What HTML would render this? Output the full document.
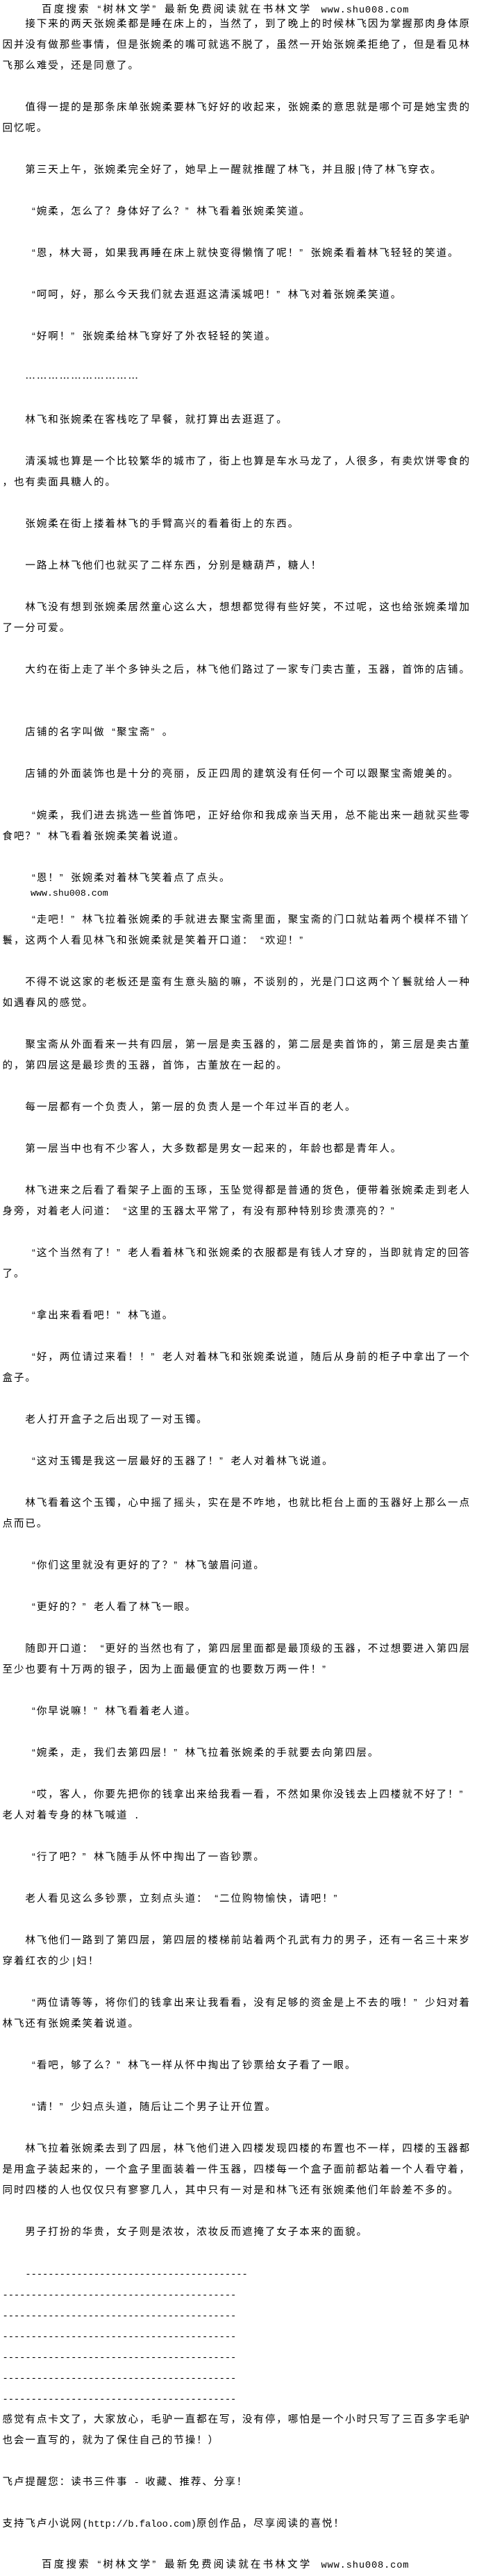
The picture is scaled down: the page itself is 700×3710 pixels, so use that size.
<!DOCTYPE html>
<html lang="zh-CN">
<head>
<meta charset="utf-8">
<style>
html,body{margin:0;padding:0;background:#fff;}
body{width:700px;height:3704px;position:relative;overflow:hidden;color:#000;
 font-family:"Liberation Sans","Noto Sans CJK SC",sans-serif;font-size:14.5px;letter-spacing:1.95px;}
.h{position:absolute;left:60px;height:28px;line-height:28px;white-space:nowrap;letter-spacing:3.2px;}
#t{position:absolute;left:3.5px;top:20px;width:694px;}
.l{height:30px;line-height:30px;white-space:nowrap;}
.i{padding-left:32.9px;}
.o,.c{display:inline-block;width:14.5px;margin-right:1.95px;letter-spacing:0;}
.o{text-align:right;}
.c{text-align:left;}
.h .o,.h .c{margin-right:3.2px;}
.m{font-family:"Liberation Mono",monospace;font-size:13.7px;letter-spacing:0;}
.e{font-family:"Noto Sans CJK SC",sans-serif;}
.w{position:absolute;left:44px;top:1279px;height:16px;line-height:16px;font-family:"Liberation Mono",monospace;font-size:13.3px;letter-spacing:0;white-space:nowrap;}
</style>
</head>
<body>
<div class="h" style="top:0;">百度搜索<span class="o">“</span>树林文学<span class="c">”</span>最新免费阅读就在书林文学<span class="m" style="letter-spacing:0.85px;margin-left:4px;"> www.shu008.com</span></div>

<div id="t">
<div class="l i">接下来的两天张婉柔都是睡在床上的，当然了，到了晚上的时候林飞因为掌握那肉身体原</div>
<div class="l">因并没有做那些事情，但是张婉柔的嘴可就逃不脱了，虽然一开始张婉柔拒绝了，但是看见林</div>
<div class="l">飞那么难受，还是同意了。</div>
<div class="l"></div>
<div class="l i">值得一提的是那条床单张婉柔要林飞好好的收起来，张婉柔的意思就是哪个可是她宝贵的</div>
<div class="l">回忆呢。</div>
<div class="l"></div>
<div class="l i">第三天上午，张婉柔完全好了，她早上一醒就推醒了林飞，并且服<span class="m">|</span>侍了林飞穿衣。</div>
<div class="l"></div>
<div class="l i"><span class="o">“</span>婉柔，怎么了？身体好了么？<span class="c">”</span>林飞看着张婉柔笑道。</div>
<div class="l"></div>
<div class="l i"><span class="o">“</span>恩，林大哥，如果我再睡在床上就快变得懒惰了呢！<span class="c">”</span>张婉柔看着林飞轻轻的笑道。</div>
<div class="l"></div>
<div class="l i"><span class="o">“</span>呵呵，好，那么今天我们就去逛逛这清溪城吧！<span class="c">”</span>林飞对着张婉柔笑道。</div>
<div class="l"></div>
<div class="l i"><span class="o">“</span>好啊！<span class="c">”</span>张婉柔给林飞穿好了外衣轻轻的笑道。</div>
<div class="l"></div>
<div class="l i"><span class="e">…………………………</span></div>
<div class="l"></div>
<div class="l i">林飞和张婉柔在客栈吃了早餐，就打算出去逛逛了。</div>
<div class="l"></div>
<div class="l i">清溪城也算是一个比较繁华的城市了，街上也算是车水马龙了，人很多，有卖炊饼零食的</div>
<div class="l">，也有卖面具糖人的。</div>
<div class="l"></div>
<div class="l i">张婉柔在街上搂着林飞的手臂高兴的看着街上的东西。</div>
<div class="l"></div>
<div class="l i">一路上林飞他们也就买了二样东西，分别是糖葫芦，糖人！</div>
<div class="l"></div>
<div class="l i">林飞没有想到张婉柔居然童心这么大，想想都觉得有些好笑，不过呢，这也给张婉柔增加</div>
<div class="l">了一分可爱。</div>
<div class="l"></div>
<div class="l i">大约在街上走了半个多钟头之后，林飞他们路过了一家专门卖古董，玉器，首饰的店铺。</div>
<div class="l"></div>
<div class="l"></div>
<div class="l i">店铺的名字叫做<span class="o">“</span>聚宝斋<span class="c">”</span>。</div>
<div class="l"></div>
<div class="l i">店铺的外面装饰也是十分的亮丽，反正四周的建筑没有任何一个可以跟聚宝斋媲美的。</div>
<div class="l"></div>
<div class="l i"><span class="o">“</span>婉柔，我们进去挑选一些首饰吧，正好给你和我成亲当天用，总不能出来一趟就买些零</div>
<div class="l">食吧？<span class="c">”</span>林飞看着张婉柔笑着说道。</div>
<div class="l"></div>
<div class="l i"><span class="o">“</span>恩！<span class="c">”</span>张婉柔对着林飞笑着点了点头。</div>
<div class="l"></div>
<div class="l i"><span class="o">“</span>走吧！<span class="c">”</span>林飞拉着张婉柔的手就进去聚宝斋里面，聚宝斋的门口就站着两个模样不错丫</div>
<div class="l">鬟，这两个人看见林飞和张婉柔就是笑着开口道：<span class="o">“</span>欢迎！<span class="c">”</span></div>
<div class="l"></div>
<div class="l i">不得不说这家的老板还是蛮有生意头脑的嘛，不谈别的，光是门口这两个丫鬟就给人一种</div>
<div class="l">如遇春风的感觉。</div>
<div class="l"></div>
<div class="l i">聚宝斋从外面看来一共有四层，第一层是卖玉器的，第二层是卖首饰的，第三层是卖古董</div>
<div class="l">的，第四层这是最珍贵的玉器，首饰，古董放在一起的。</div>
<div class="l"></div>
<div class="l i">每一层都有一个负责人，第一层的负责人是一个年过半百的老人。</div>
<div class="l"></div>
<div class="l i">第一层当中也有不少客人，大多数都是男女一起来的，年龄也都是青年人。</div>
<div class="l"></div>
<div class="l i">林飞进来之后看了看架子上面的玉琢，玉坠觉得都是普通的货色，便带着张婉柔走到老人</div>
<div class="l">身旁，对着老人问道：<span class="o">“</span>这里的玉器太平常了，有没有那种特别珍贵漂亮的？<span class="c">”</span></div>
<div class="l"></div>
<div class="l i"><span class="o">“</span>这个当然有了！<span class="c">”</span>老人看着林飞和张婉柔的衣服都是有钱人才穿的，当即就肯定的回答</div>
<div class="l">了。</div>
<div class="l"></div>
<div class="l i"><span class="o">“</span>拿出来看看吧！<span class="c">”</span>林飞道。</div>
<div class="l"></div>
<div class="l i"><span class="o">“</span>好，两位请过来看！！<span class="c">”</span>老人对着林飞和张婉柔说道，随后从身前的柜子中拿出了一个</div>
<div class="l">盒子。</div>
<div class="l"></div>
<div class="l i">老人打开盒子之后出现了一对玉镯。</div>
<div class="l"></div>
<div class="l i"><span class="o">“</span>这对玉镯是我这一层最好的玉器了！<span class="c">”</span>老人对着林飞说道。</div>
<div class="l"></div>
<div class="l i">林飞看着这个玉镯，心中摇了摇头，实在是不咋地，也就比柜台上面的玉器好上那么一点</div>
<div class="l">点而已。</div>
<div class="l"></div>
<div class="l i"><span class="o">“</span>你们这里就没有更好的了？<span class="c">”</span>林飞皱眉问道。</div>
<div class="l"></div>
<div class="l i"><span class="o">“</span>更好的？<span class="c">”</span>老人看了林飞一眼。</div>
<div class="l"></div>
<div class="l i">随即开口道：<span class="o">“</span>更好的当然也有了，第四层里面都是最顶级的玉器，不过想要进入第四层</div>
<div class="l">至少也要有十万两的银子，因为上面最便宜的也要数万两一件！<span class="c">”</span></div>
<div class="l"></div>
<div class="l i"><span class="o">“</span>你早说嘛！<span class="c">”</span>林飞看着老人道。</div>
<div class="l"></div>
<div class="l i"><span class="o">“</span>婉柔，走，我们去第四层！<span class="c">”</span>林飞拉着张婉柔的手就要去向第四层。</div>
<div class="l"></div>
<div class="l i"><span class="o">“</span>哎，客人，你要先把你的钱拿出来给我看一看，不然如果你没钱去上四楼就不好了！<span class="c">”</span></div>
<div class="l">老人对着专身的林飞喊道<span class="m"> .</span></div>
<div class="l"></div>
<div class="l i"><span class="o">“</span>行了吧？<span class="c">”</span>林飞随手从怀中掏出了一沓钞票。</div>
<div class="l"></div>
<div class="l i">老人看见这么多钞票，立刻点头道：<span class="o">“</span>二位购物愉快，请吧！<span class="c">”</span></div>
<div class="l"></div>
<div class="l i">林飞他们一路到了第四层，第四层的楼梯前站着两个孔武有力的男子，还有一名三十来岁</div>
<div class="l">穿着红衣的少<span class="m">|</span>妇！</div>
<div class="l"></div>
<div class="l i"><span class="o">“</span>两位请等等，将你们的钱拿出来让我看看，没有足够的资金是上不去的哦！<span class="c">”</span>少妇对着</div>
<div class="l">林飞还有张婉柔笑着说道。</div>
<div class="l"></div>
<div class="l i"><span class="o">“</span>看吧，够了么？<span class="c">”</span>林飞一样从怀中掏出了钞票给女子看了一眼。</div>
<div class="l"></div>
<div class="l i"><span class="o">“</span>请！<span class="c">”</span>少妇点头道，随后让二个男子让开位置。</div>
<div class="l"></div>
<div class="l i">林飞拉着张婉柔去到了四层，林飞他们进入四楼发现四楼的布置也不一样，四楼的玉器都</div>
<div class="l">是用盒子装起来的，一个盒子里面装着一件玉器，四楼每一个盒子面前都站着一个人看守着，</div>
<div class="l">同时四楼的人也仅仅只有寥寥几人，其中只有一对是和林飞还有张婉柔他们年龄差不多的。</div>
<div class="l"></div>
<div class="l i">男子打扮的华贵，女子则是浓妆，浓妆反而遮掩了女子本来的面貌。</div>
<div class="l"></div>
<div class="l i"><span class="m">---------------------------------------</span></div>
<div class="l"><span class="m">-----------------------------------------</span></div>
<div class="l"><span class="m">-----------------------------------------</span></div>
<div class="l"><span class="m">-----------------------------------------</span></div>
<div class="l"><span class="m">-----------------------------------------</span></div>
<div class="l"><span class="m">-----------------------------------------</span></div>
<div class="l"><span class="m">-----------------------------------------</span></div>
<div class="l">感觉有点卡文了，大家放心，毛驴一直都在写，没有停，哪怕是一个小时只写了三百多字毛驴</div>
<div class="l">也会一直写的，就为了保住自己的节操！）</div>
<div class="l"></div>
<div class="l">飞卢提醒您：读书三件事<span class="m"> - </span>收藏、推荐、分享！</div>
<div class="l"></div>
<div class="l">支持飞卢小说网<span class="m">(http://b.faloo.com)</span>原创作品，尽享阅读的喜悦！</div>
</div>

<div class="w">www.shu008.com</div>

<div class="h" style="top:3680px;">百度搜索<span class="o">“</span>树林文学<span class="c">”</span>最新免费阅读就在书林文学<span class="m" style="letter-spacing:0.85px;margin-left:4px;"> www.shu008.com</span></div>
</body>
</html>
